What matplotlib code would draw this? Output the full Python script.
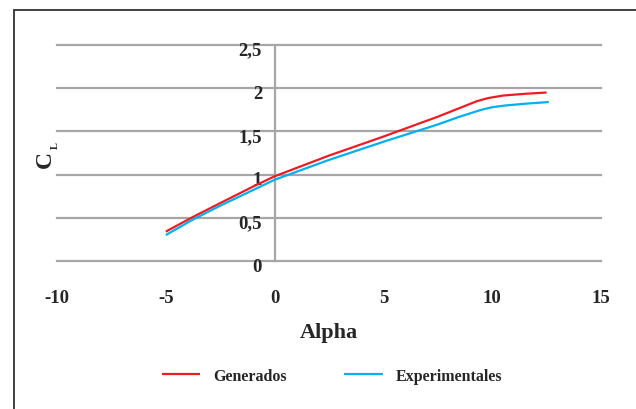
import matplotlib
matplotlib.use("Agg")
import matplotlib.pyplot as plt
from matplotlib.patches import Rectangle
from matplotlib.transforms import ScaledTranslation

# Lift coefficient vs. angle of attack
alpha_gen = [-5, -3.75, -2.5, -1, 0, 2.5, 5, 7.5, 8.5, 9.3, 9.8, 10.5, 11.5, 12.5]
cl_gen = [0.34, 0.51, 0.67, 0.86, 0.98, 1.22, 1.44, 1.67, 1.77, 1.85, 1.885, 1.915, 1.935, 1.95]

alpha_exp = [-5, -3.75, -2.5, -1, 0, 2.5, 5, 7.5, 8.5, 9.5, 10.0, 10.6, 11.5, 12.6]
cl_exp = [0.30, 0.48, 0.64, 0.82, 0.94, 1.17, 1.38, 1.58, 1.67, 1.75, 1.78, 1.80, 1.82, 1.84]

x_ticks = [-10, -5, 0, 5, 10, 15]
x_labels = ["-10", "-5", "0", "5", "10", "15"]
y_ticks = [0, 0.5, 1, 1.5, 2, 2.5]
y_labels = ["0", "0,5", "1", "1,5", "2", "2,5"]

series_names = ["Generados", "Experimentales"]

plt.rcParams["font.family"] = ["Liberation Serif", "DejaVu Serif"]
plt.rcParams["font.weight"] = "bold"

TXT = "#262626"
GRID = "#A6A6A6"
RED = "#ED1C24"
BLUE = "#00B0F0"

W, H = 636, 410
fig = plt.figure(figsize=(W / 100, H / 100), dpi=100)
fig.patch.set_facecolor("white")

ax = fig.add_axes([57 / W, 1 - 262 / H, (601 - 57) / W, (262 - 46) / H])
ax.set_xlim(-10, 15)
ax.set_ylim(0, 2.5)

ax.set_xticks(x_ticks)
ax.set_xticklabels(x_labels)
ax.set_yticks(y_ticks)
ax.set_yticklabels(y_labels)

# horizontal gridlines (unclipped so the edge lines keep full width)
for yv in y_ticks:
    ax.axhline(yv, color=GRID, lw=1.6, clip_on=False, zorder=0.5)

for s in ("top", "right", "bottom"):
    ax.spines[s].set_visible(False)
ax.spines["left"].set_position(("data", 0))
ax.spines["left"].set_color(GRID)
ax.spines["left"].set_linewidth(1.6)
ax.spines["left"].set_zorder(0.6)

ax.tick_params(axis="x", length=0, pad=20, labelsize=13.5, labelcolor=TXT)
ax.tick_params(axis="y", length=0, pad=9, labelsize=13.5, labelcolor=TXT)

shift = ScaledTranslation(0, -3 / 100, fig.dpi_scale_trans)
for lbl in ax.get_yticklabels():
    lbl.set_transform(lbl.get_transform() + shift)

l1, = ax.plot(alpha_gen, cl_gen, color=RED, lw=1.6, solid_capstyle="butt", zorder=3)
l2, = ax.plot(alpha_exp, cl_exp, color=BLUE, lw=1.6, solid_capstyle="butt", zorder=3)

ax.set_xlabel("Alpha", fontsize=16, fontweight="bold", color=TXT, labelpad=12)

# y-axis title: C with a small subscript L
fig.text(45 / W, 1 - 160 / H, "C", rotation=90, fontsize=17,
         fontweight="bold", color=TXT, ha="center", va="center")
fig.text(55 / W, 1 - 146 / H, "L", rotation=90, fontsize=7.5,
         fontweight="bold", color=TXT, ha="center", va="center")

fig.legend([l1, l2], series_names, loc="center", bbox_to_anchor=(0.522, 1 - 377 / H),
           ncol=2, frameon=False, fontsize=11.5, handlelength=2.4,
           handletextpad=0.8, columnspacing=3.6, labelcolor=TXT)

fig.add_artist(Rectangle((14 / W, -0.5), 2.0, 0.5 + 1 - 10.5 / H,
                         transform=fig.transFigure, fill=False,
                         ec="#333333", lw=1.3, clip_on=False))

fig.savefig("out.png", dpi=100)
